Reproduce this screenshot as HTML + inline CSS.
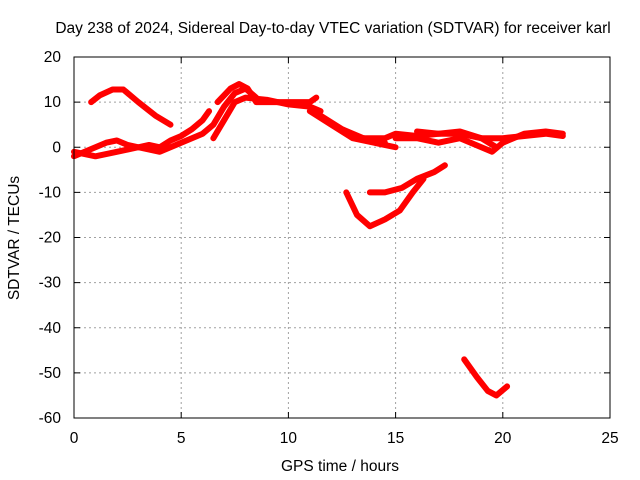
<!DOCTYPE html>
<html><head><meta charset="utf-8"><style>
body{margin:0;background:#fff}
svg{display:block;font-family:"Liberation Sans",sans-serif}
</style></head><body>
<svg id="chart" width="640" height="480">
<rect width="640" height="480" fill="#fff"/>
<text x="333" y="33" text-anchor="middle" font-size="15.5">Day 238 of 2024, Sidereal Day-to-day VTEC variation (SDTVAR) for receiver karl</text>
<text x="340" y="471" text-anchor="middle" font-size="15.5">GPS time / hours</text>
<text transform="translate(19,238) rotate(-90)" text-anchor="middle" font-size="15.5">SDTVAR / TECUs</text>
<g id="grid"></g><g id="series"></g>
<rect x="74" y="57" width="536" height="361" fill="none" stroke="#000" stroke-width="1"/>
</svg>
<script>
const xTicks=[0,5,10,15,20,25];
const yTicks=[20,10,0,-10,-20,-30,-40,-50,-60];
const track1=[[0.8,10],[1.2,11.5],[1.8,12.8],[2.3,12.8],[3,10],[3.8,7],[4.5,5]];
const track2=[[0,-2],[0.5,-1],[1,0],[1.5,1],[2,1.5],[2.5,0.5],[3,0],[3.5,0.5],[4,0],[4.5,1.5],[5,2.5],[5.5,4],[6,6],[6.3,8]];
const track3=[[0,-1],[1,-2],[2,-1],[3,0],[4,-1],[5,1],[6,3],[6.5,5],[7,9],[7.5,12],[8,13],[8.5,11]];
const track4=[[6.5,2],[7,6],[7.5,10],[8,11],[9,10.5],[10,9.5],[11,9],[11.5,8]];
const track5=[[6.7,10],[7.3,13],[7.7,14],[8.1,13],[8.5,10],[9,10],[10,10],[11,10],[11.3,11]];
const track6=[[11,8],[12,5],[13,2],[14,1],[15,0]];
const track7=[[11.5,7],[12.5,4],[13.5,2],[14.5,1]];
const track8=[[13.5,2],[14.5,2],[15,3],[16,2.5],[17,3],[18,3.5],[19,2],[19.7,0]];
const track9=[[15,2],[16,2],[17,1],[18,2],[19,0],[19.5,-1],[20,1],[21,3],[22,3.5],[22.8,3]];
const track10=[[16,3.5],[17,3],[18,3],[19,2],[20,2],[21,2.5],[22,3],[22.8,2.5]];
const track11=[[12.7,-10],[13.2,-15],[13.8,-17.5],[14.5,-16],[15.2,-14],[15.8,-10],[16.3,-7]];
const track12=[[13.8,-10],[14.5,-10],[15.3,-9],[16,-7],[16.8,-5.5],[17.3,-4]];
const track13=[[18.2,-47],[18.8,-51],[19.3,-54],[19.7,-55],[20.2,-53]];
const tracks=[track1,track2,track3,track4,track5,track6,track7,track8,track9,track10,track11,track12,track13];
const NS='http://www.w3.org/2000/svg';
const X0=74,X1=610,Y0=418,Y1=57;
const sx=v=>X0+(v-0)/(25-0)*(X1-X0);
const sy=v=>Y0-(v+60)/(80)*(Y0-Y1);
const g=document.getElementById('grid'),s=document.getElementById('series');
function mk(t,a,p){const e=document.createElementNS(NS,t);for(const k in a)e.setAttribute(k,a[k]);p.appendChild(e);return e;}
xTicks.forEach(v=>{const x=sx(v);
 if(v>0&&v<25){const l=mk('line',{x1:x,x2:x,y1:Y1,y2:Y0,stroke:'#a0a0a0','stroke-dasharray':'2,3'},g);
 
 }
 mk('line',{x1:x,x2:x,y1:Y0,y2:Y0-6,stroke:'#000'},g);mk('line',{x1:x,x2:x,y1:Y1,y2:Y1+6,stroke:'#000'},g);
 const t=mk('text',{x:x,y:443,'text-anchor':'middle','font-size':'15.5'},g);t.textContent=v;
 
 });
yTicks.forEach(v=>{const y=sy(v);
 if(v>-60&&v<20){const l=mk('line',{x1:X0,x2:X1,y1:y,y2:y,stroke:'#a0a0a0','stroke-dasharray':'2,3'},g);
 
 }
 mk('line',{x1:X0,x2:X0+6,y1:y,y2:y,stroke:'#000'},g);mk('line',{x1:X1,x2:X1-6,y1:y,y2:y,stroke:'#000'},g);
 const t=mk('text',{x:61,y:y+5,'text-anchor':'end','font-size':'15.5'},g);t.textContent=v;
 
 });
tracks.forEach((tr,i)=>{
 const p=mk('polyline',{points:tr.map(d=>sx(d[0])+','+sy(d[1])).join(' '),fill:'none',stroke:'#f00','stroke-width':6,'stroke-linejoin':'round','stroke-linecap':'round'},s);
 
 
});
</script>
</body></html>
